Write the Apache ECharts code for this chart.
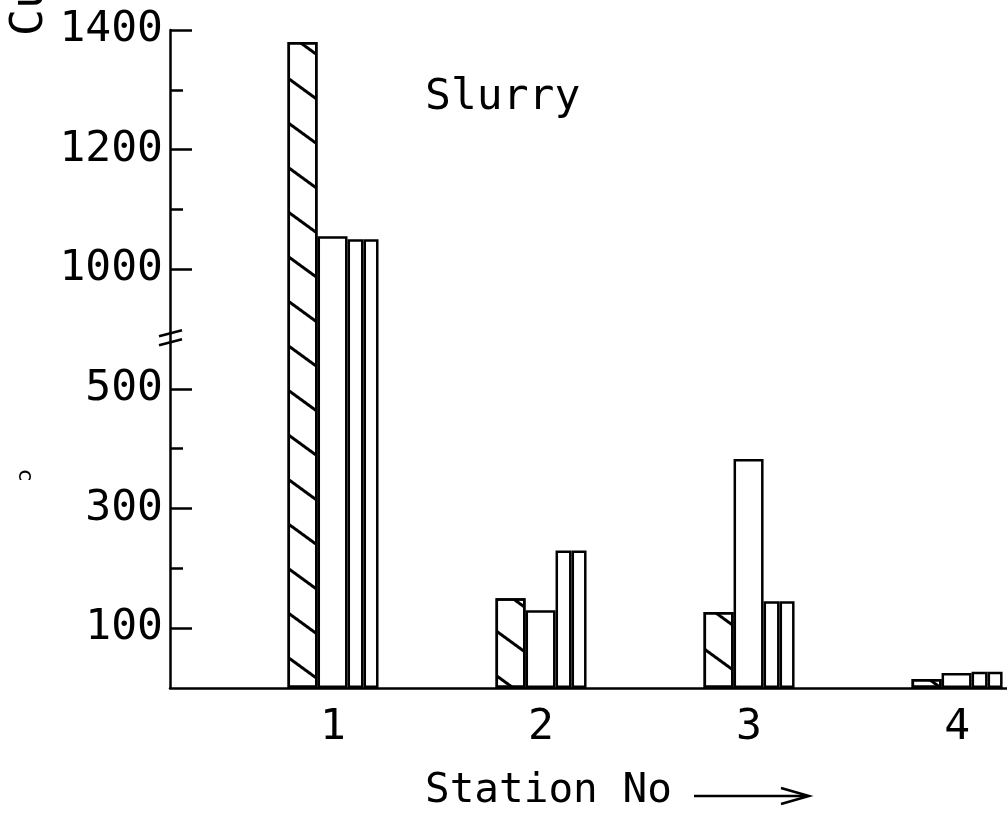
<!DOCTYPE html>
<html><head><meta charset="utf-8">
<script src="https://cdn.jsdelivr.net/npm/echarts@6/dist/echarts.min.js"></script>
<style>html,body{margin:0;padding:0;background:#fff}#c{width:1007px;height:821px}</style>
</head><body><div id="c"></div>
<script>
// ---- data (display values, y axis has a break between 500 and 1000) ----
const stations = [1, 2, 3, 4];
const hatchedVals = [1380, 150, 127, 15];
const openVals = [1055, 130, 383, 25];
const linedVals = [1050, 230, 145, 27];
const yTickLabels = [100, 300, 500, 1000, 1200, 1400];
const yMinorTicks = [200, 400, 1100, 1300];
const BREAK_FROM = 600, BREAK_SHIFT = 300;
function toAxis(v) { return v > BREAK_FROM ? v - BREAK_SHIFT : v; }
function fromAxis(v) { return v > BREAK_FROM ? v + BREAK_SHIFT : v; }

const FONT = "'DejaVu Sans Mono', monospace";
const chart = echarts.init(document.getElementById('c'), null, {renderer: 'canvas'});
const pts = arr => stations.map((s, i) => [s, toAxis(arr[i])]);
const barStyle = {color: '#fff', borderColor: '#000', borderWidth: 2.5};

chart.setOption({
  animation: false,
  backgroundColor: '#fff',
  grid: {left: 170, right: 0, top: 30, bottom: 133, containLabel: false},
  xAxis: {
    type: 'value', min: 0.2163, max: 4.24,
    axisLine: {show: true, lineStyle: {color: '#000', width: 2.5}},
    axisTick: {show: false}, splitLine: {show: false},
    axisLabel: {customValues: stations, formatter: v => String(v), color: '#000',
      fontFamily: FONT, fontSize: 43, margin: 18}
  },
  yAxis: [{
    type: 'value', min: 0, max: 1100, position: 'left',
    axisLine: {show: true, lineStyle: {color: '#000', width: 2.5}},
    axisTick: {show: true, inside: true, length: 22, customValues: yTickLabels.map(toAxis),
      lineStyle: {color: '#000', width: 2.5}},
    axisLabel: {customValues: yTickLabels.map(toAxis), formatter: v => String(fromAxis(v)),
      color: '#000', fontFamily: FONT, fontSize: 43, margin: 7},
    splitLine: {show: false}
  }, {
    type: 'value', min: 0, max: 1100, position: 'left',
    axisLine: {show: false},
    axisTick: {show: true, inside: true, length: 13, customValues: yMinorTicks.map(toAxis),
      lineStyle: {color: '#000', width: 2.5}},
    axisLabel: {show: false}, splitLine: {show: false}
  }],
  series: [
    {type: 'bar', name: 'hatched', data: pts(hatchedVals), barWidth: 30,
      itemStyle: Object.assign({}, barStyle, {decal: {symbol: 'rect', color: '#000',
        dashArrayX: [1, 0], dashArrayY: [2.5, 32.5], rotation: 0.63}})},
    {type: 'bar', name: 'open', data: pts(openVals), barWidth: 30, itemStyle: barStyle},
    {type: 'bar', name: 'linedA', data: pts(linedVals), barWidth: 16, itemStyle: barStyle},
    {type: 'bar', name: 'linedB', data: pts(linedVals), barWidth: 15, barGap: '0%', itemStyle: barStyle}
  ]
});

const ax = chart.convertToPixel({xAxisIndex: 0}, 0.2163);
const by = chart.convertToPixel({yAxisIndex: 0}, 593);
chart.setOption({
  graphic: [
    {type: 'line', shape: {x1: ax - 11, y1: by + 3, x2: ax + 12, y2: by - 3}, style: {stroke: '#000', lineWidth: 2.5}},
    {type: 'line', shape: {x1: ax - 11, y1: by + 12, x2: ax + 12, y2: by + 6}, style: {stroke: '#000', lineWidth: 2.5}},
    {type: 'text', left: 425, top: 76, style: {text: 'Slurry', font: "43px " + FONT, fill: '#000'}},
    {type: 'text', left: 425, top: 771, style: {text: 'Station No', font: "41px " + FONT, fill: '#000'}},
    {type: 'line', shape: {x1: 694, y1: 796, x2: 807, y2: 796}, style: {stroke: '#000', lineWidth: 2.5}},
    {type: 'polyline', shape: {points: [[781, 788], [809, 796], [781, 804]]}, style: {stroke: '#000', lineWidth: 2.5, fill: null}},
    {type: 'text', x: 30, y: 36, rotation: Math.PI / 2,
      style: {text: 'Cu', font: "45px " + FONT, fill: '#000', align: 'left', verticalAlign: 'middle'}},
    {type: 'text', x: 25, y: 475, rotation: -Math.PI / 2,
      style: {text: 'c', font: "22px " + FONT, fill: '#000', align: 'center', verticalAlign: 'middle'}}
  ]
});
</script></body></html>
